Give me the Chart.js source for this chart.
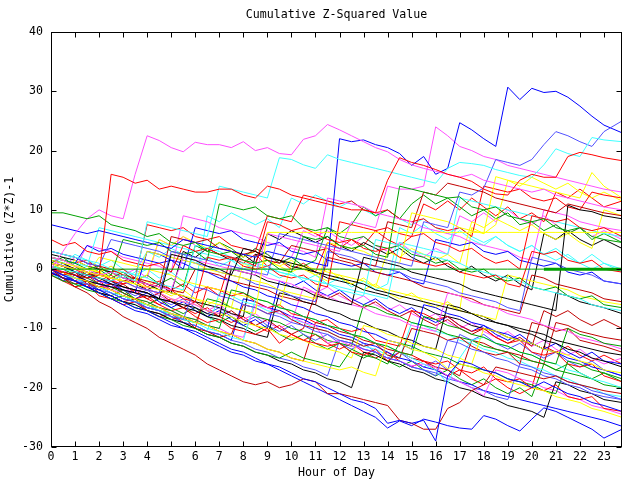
<!DOCTYPE html>
<html>
<head>
<meta charset="utf-8">
<script src="https://cdn.jsdelivr.net/npm/chart.js@4"></script>
<style>
html,body{margin:0;padding:0;background:#fff}
</style>
</head>
<body>
<canvas id="chart" width="640" height="480"></canvas>
<script>
// half-hour samples, last one at 23:45
const hours = [0,0.5,1,1.5,2,2.5,3,3.5,4,4.5,5,5.5,6,6.5,7,7.5,8,8.5,9,9.5,10,10.5,11,11.5,12,12.5,13,13.5,14,14.5,15,15.5,16,16.5,17,17.5,18,18.5,19,19.5,20,20.5,21,21.5,22,22.5,23,23.75]
const hourTicks = [0,1,2,3,4,5,6,7,8,9,10,11,12,13,14,15,16,17,18,19,20,21,22,23]
const yTicks = [-30,-20,-10,0,10,20,30,40]

const r1 = [0,-0.5,-1,-1.5,-1,16,15.5,14.5, 15,13.5,14,13.5,13,13,13.5,13.5, 12.5,12,14,13.5,12.5,12,11.5,11, 10.5,10,10,9.5,15,18.8,18,17.5, 16.8,16,15.5,14.8,13.5,12.7,12.5,15, 16,15.5,15.5,19,19.7,19.3,18.8,18.3]
const r2 = [5,4,4.5,3,2.5,3,1.5,1, 0.5,1,-0.5,4,3,3.5,2.5,2, 1.5,0.5,8,7.5,6.5,7,6,5, 4.5,5,3.5,3,3.5,2,1.5,1, 0.5,1,-0.5,-1,-1.5,-1,-2.5,-3, 3,2.5,3,1.5,1,1.5,0,-0.5]
const r3 = [0,-1,-0.5,-2.5,-3,-2.5,-4,-5, -4.5,-6,-7,-6.5,-8,-9,-8.5,-10, -10.5,-11,-10,-12.5,-11,-12,-12.5,-13, -12.5,-14,-14.5,-13.5,-15.5,-14,-14.5,-15.5, -16,-15.5,-17,-17.5,-16.5,-18.5,-19,-18.5, -20,-20.5,-19.5,-21.5,-22,-21.5,-23.5,-24]
const r4 = [1,0.5,0,-1,-0.5,-2,-2.5,-2, -3.5,-4,-3.5,-5,-5.5,2,1.5,2, 0.5,0,0.5,-1,-1.5,-1,-2.5,-3, 8,7.5,7,6.5,7,6,5.5,6, 4.5,4,3,3.5,2,1,1.5,0, 9,8.5,8,8.5,7,6.5,7,5.5]
const r5 = [-1,-2,-3,-2.5,-4.5,-5,-6,-5.5, -7,-8,-7.5,-9,-10,-3,-3.5,-4.5, -4,-5.5,-6.5,-6,-7.5,-8,-9,-8.5, -10,-10.5,-10,-12,-12.5,-13,-7,-7.5, -8.5,-8,-9.5,-10.5,-10,-11.5,-12.5,-12, -14,-14.5,-14,-16,-16.5,-16,-18,-19]
const r6 = [2,1.5,1,1.5,0,-0.5,0,-1.5, 7.5,7,6.5,7,5.5,5,5.5,4, 3.5,3,9,8.5,8,12.5,12,11.5, 11,11.5,10,9.5,10,8.5,8,8.5, 7,6.5,7,5.5,14,13.5,13,13.5, 12,11.5,12,10.5,10,13,12.5,12]
const r7 = [0,-1,0.5,-0.5,-2,-1,-2.5,-1.5, -3,-2,-3.5,-2.5,-4,-3,-4.5,2, 1,2.5,0.5,1.5,0,1,-0.5,4.5, 3.5,5,4,6.5,5,4,5.5,11, 10,11.5,10,12,10.5,9,10.5,8.5, 9.5,8,13,12,13.5,12,10.5,11.5]
const r8 = [-1,-0.5,-2,-3,-2,-3.5,-4.5,-3.5, -5,-6,-5,-6.5,-7.5,-6.5,-8,-9, -8,-9.5,-10.5,-9.5,-11,-12,-11,-12.5, -13.5,-12.5,-14,-15,-14,-15.5,-16.5,-15.5, -17,-18,-17,-18.5,-19.5,-18.5,-20,-21, -20,-13,-14,-13,-14.5,-15.5,-14.5,-16]

const d1 = [0,-1.5,-3,-4,-5.5,-6.5,-8,-9, -10,-11.5,-12.5,-13.5,-14.5,-16,-17,-18, -19,-19.5,-19,-20,-19.5,-18.5,-19,-21, -21,-21.5,-22,-22.5,-23,-25.5,-26,-27, -27,-23.5,-22.5,-20.5,-19.5,-16.5,-17,-17.5, -18,-18.5,-18,-19,-19.5,-20,-20.5,-21]
const d2 = [1,0.5,0,-0.5,-1,-1.5,-2,-1.5, -2.5,-3,5.5,5,4.5,5,3.5,3, 2.5,3,1.5,1,4,3.5,3,3.5, 2,1.5,1,0.5,8,7.5,7,13, 12.5,14.5,14,13.5,13,12,11.5,11, 10.5,10,9.5,11,10.5,10,9.5,9]
const d3 = [-0.5,-1.5,-2.5,-2,-4,-4.5,-5.5,-5, -7,-7.5,-8.5,-8,-10,-10.5,-11.5,-11, -6,-6.5,-7.5,-7,-8.5,-9.5,-10,-10.5, -11.5,-12,-13,-12.5,-14.5,-15,-10,-10.5, -11,-12,-11.5,-13,-14,-14.5,-14,-16, -9,-9.5,-10.5,-10,-12,-12.5,-13,-14]
const d4 = [3,2.5,2,1,0.5,0,-1,-1.5, -2,-2.5,-3.5,-4,0,-0.5,-1,-2, -2.5,-3,-3.5,-4.5,-5,-5.5,-6,2, 1.5,1,0,-0.5,-1,-1.5,-2,-3, -3.5,-4,-4.5,-5,-6,-6.5,-7,-7.5, -1,-1.5,-2.5,-3,-3.5,-4,-5,-5.5]
const d5 = [0,-0.5,-1.5,-2,-3,-3.5,-4.5,-5, -6,-6.5,-7.5,-8,-9,-9.5,-10.5,-11, -12,-12.5,-13.5,-14,-15,-15.5,-9,-9.5, -10.5,-11,-12,-12.5,-13.5,-14,-15,-15.5, -16.5,-17,-18,-12,-12.5,-13.5,-14,-14.5, -15.5,-16,-9,-9.5,-10.5,-11,-11.5,-12]
const d6 = [0.5,-0.5,-2,-1,-2.5,-3.5,-2.5,-4, -5,-4,-5.5,-6.5,-5.5,-7,-8,-7, -8.5,-9.5,-8.5,-10,-11,-10,-4,-5, -4,-5.5,-6.5,-5.5,-7,-8,-7,-8.5, -9.5,-8.5,-10,-11,-10,-11.5,-12.5,-11.5, -13,-7,-8,-7,-8.5,-9.5,-8.5,-10]

const g1 = [9.5,9.5,9,8.5,9,7.5,7,6.5, 5.5,6,4.5,4,4.5,3,2.5,3, 1.5,1,1.5,0,-0.5,5.5,5,5.5, 4,3.5,4,2.5,2,14,13.5,13, 12.5,12,12.2,10.5,10,10.5,9,8.5, 8,8.5,7,6.5,7,5.5,5,4.5]
const g2 = [0.5,0,-1,-1.5,-2.5,-3,-4,-5, -5.5,-6.5,-7,-8,-8.5,-9.5,-10,-3.5, -4,-5,-5.5,-6.5,-7,-8,-8.5,-9.5, -10,-11,-11.5,-12.5,-13,-14,-14.5,-8, -8.5,-9.5,-10,-11,-11.5,-12.5,-13,-14, -14.5,-15.5,-16,-10,-11,-11.5,-12.5,-13]
const g3 = [-1,-2,-2.5,-3.5,-4,-5,-5.5,-6.5, -7,-8,-8.5,-9.5,-10,-11,-11.5,-12.5, -13,-14,-14.5,-15,-14,-15,-15.5,-16, -16.5,-13.5,-14.5,-15,-16,-12.5,-13,-14, -14.5,-15,-16,-16.5,-17,-17.5,-18.5,-19, -19.5,-20.5,-21,-15.5,-16,-17,-17.5,-18.5]
const g4 = [2,1.5,1,0,0.5,-1,5,4.5, 4,4.5,3,2.5,3,1.5,11,10.5, 10,10.5,9,8.5,9,7,6.5,7, 5.5,5,5.5,4,3.5,4,2.5,2, 1,1.5,0,-0.5,0,-1.5,-2,-1.5, -3,-3.5,-3,-4.5,-5,-4.5,-6,-6.5]
const g5 = [0,-1,-2,-3,-4,-5,-4.5,-5.5, -6,-7,-7.5,-8.5,-9,-5,-5.5,-6.5, -7,-8,-8.5,-9,-10,-10.5,-11,-12, -12.5,-13,-6,-6.5,-7.5,-8,-9,-9.5, -10,-11,-11.5,-12,-13,-13.5,-14,-15, -15.5,-16,-17,-17.5,-18,-18.5,-19.5,-20]
const g6 = [1,2,0.5,-1,0,-1.5,-0.5,-2, -1,-2.5,-1.5,-3,4,3,4.5,3.5, 2,3.5,2.5,1,2,0.5,1.5,7, 6,7.5,10.5,9,10,8.5,11,12.5, 11,12,10.5,9,10,8.5,9.5,7.5, 8,6.5,7.5,6,7,5,6,4.5]
const g7 = [-0.5,-1.5,-3,-2,-3.5,-4.5,-3.5,-5, -6,-5,-6.5,-7.5,-6.5,-8,-9,-8, -9.5,-10.5,-9.5,-11,-12,-11,-12.5,-13.5, -12.5,-14,-15,-14,-15.5,-16.5,-15.5,-17, -18,-17,-18.5,-19.5,-18.5,-20,-21,-20, -21.5,-16,-17,-16,-17.5,-18.5,-17.5,-19]
const gZero = [0,0,0,0,0,0,0,0, 0,0,0,0,0,0,0,0, 0,0,0,0,0,0,0,0, 0,0,0,0,0,0,0,0, 0,0,0,0,0,0,0,0, 0,0,0,0,0,0,0,0]
const tailHours = [20.5,23.75]
const gTail = [0,0]

const b1 = [7.5,7,6.5,6,6.5,6,5.5,5, 4.5,4,3.5,5,4.5,4,3.5,3, 2.5,2,3,2.5,2,1.5,1,0.5, 22,21.5,21.8,21,20.5,19.5,17.5,19, 16,17,24.7,23.5,22,20.7,30.7,28.6, 30.5,29.8,30,29,27.5,25.8,24.3,23]
const b2 = [0,-1,-2,-3,-3.5,-4.5,-5.5,-6.5, -7,-8,-9,-10,-10.5,-11.5,-12.5,-13.5, -14,-15,-16,-16.5,-17.5,-18.5,-19,-20, -21,-22,-22.5,-23.5,-26,-25.5,-26,-25.5, -29,-18,-15.5,-16,-17,-17.5,-18.5,-19, -20,-19,-20,-21,-21.5,-22.5,-23,-24]
const b3 = [-0.5,-1.5,-2,-3,-4,-5,-6,-7, -7.5,-8.5,-9.5,-10,-11,-12,-13,-14, -14.5,-15.5,-16,-17,-18,-19,-20,-21, -22,-23,-24,-25,-26.8,-25.6,-26.4,-25.3, -25.8,-26.4,-26.8,-27,-24.7,-25.3,-26.4,-27.3, -25.3,-23.4,-24,-25,-26,-27,-28.5,-27]
const b4 = [1,0.5,-0.5,-1,-2,-2.5,-3.5,-4, 3,2.5,1.5,1,0,-0.5,-1.5,-2, -3,-3.5,-4.5,-5,-6,-6.5,-7.5,-8, -9,-9.5,-10.5,-11,-12,-12.5,-13.5,-6, -6.5,-7.5,-8,-9,-9.5,-10.5,-11,-12, -12.5,-13.5,-14,-15,-15.5,-16.5,-17,-18]
const b5 = [2,1.5,1,4,3,3.5,2.5,2, 1.5,1,1.5,0,7,6.5,6,6.5, 5,4.5,4,4.5,3,2.5,3,1.5, 1,0.5,1,-0.5,-1,-0.5,-2,-2.5, 5,4.5,4,4.5,3,2.5,3,1.5, 1,0.5,1,-0.5,-1,-0.5,-2,-2.5]
const b6 = [0,-0.5,-1.5,-2.5,-3,-4,-5,-5.5, -6.5,-7,-8,-9,-9.5,-10.5,-11,-12, -5,-5.5,-6.5,-7,-8,-8.5,-9.5,-10, -11,-11.5,-12.5,-13,-14,-15,-15.5,-16.5, -17,-18,-19,-19.5,-20.5,-21,-21.5,-22, -22.5,-23,-23.5,-24,-24.5,-25,-25.5,-26.5]
const b7 = [-0.5,-2,-1,-2.5,-3.5,-2.5,-4,-5, -4,-5.5,-6.5,-5.5,-7,-8,-7,-8.5, -9.5,-8.5,-10,-2,-3,-2,-3.5,-4.5, -3.5,-5,-6,-5,-6.5,-7.5,-6.5,-8, -9,-8,-9.5,-10.5,-9.5,-11,-12,-11, -12.5,-13.5,-12.5,-14,-15,-14,-15.5,-16]

const lb1 = [0,-0.5,-1,-2,-2.5,-3,-2,-3, -3.5,-4,3,2.5,2,1.5,1,0.5, 0,-0.5,-1,6,5.5,5,4.5,4, 3.5,3,2.5,2,1.5,1,0.5,8, 7.5,7,13,12.5,13.7,18.5,18,17.5, 18.5,21,23.2,22.5,21.5,20.7,23.2,25]
const lb2 = [-0.5,-1,-2,-2.5,-3.5,-4,-5,-5.5, -6.5,-7,-8,-8.5,-3,-3.5,-4.5,-5, -6,-6.5,-7.5,-8,-9,-9.5,-10.5,-11, -12,-12.5,-13.5,-14,-15,-15.5,-16.5,-17, -18,-12,-12.5,-13.5,-14,-15,-15.5,-16.5, -17,-18,-18.5,-19.5,-20,-21,-21.5,-22]
const lb3 = [3,2.5,2,1,0.5,5,4.5,4, 3.5,3,2,1.5,1,0.5,-0.5,-1, -1.5,-2.5,-3,-3.5,-4.5,-5,-5.5,3, 2.5,2,1,0.5,0,-0.5,-1.5,-2, -2.5,-3,-4,-4.5,-5,-5.5,-6.5,-7, 2,1.5,1,0,-0.5,-1,-2,-2.5]
const lb4 = [0,-1,-1.5,-2.5,-3,-4,-5,-5.5, -6.5,-7,-8,-9,-9.5,-10.5,-11,-12, -12.5,-13.5,-14,-15,-15.5,-16.5,-17,-18, -12,-12.5,-13.5,-14,-15,-15.5,-16.5,-17, -17.5,-18.5,-19,-20,-20.5,-21.5,-22,-16, -16.5,-17.5,-18,-19,-19.5,-20.5,-21,-22]
const lb5 = [0,-1.5,-0.5,-2,-3,-2,-3.5,-4.5, -3.5,-5,-6,-5,-6.5,-7.5,-6.5,-8, -9,-8,-9.5,-10.5,-9.5,-11,-12,-11, -12.5,-13.5,-12.5,-14,-15,-14,-15.5,-16.5, -15.5,-17,-11,-12,-11,-12.5,-13.5,-12.5, -14,-15,-14,-15.5,-16.5,-15.5,-17,-18]

const m1 = [0,3,6,8.5,10,9,8.5,16, 22.5,21.7,20.5,19.8,21.4,21,21,20.5, 21.5,20,20.5,19.5,19.3,21.9,22.5,24.4, 23.5,22.5,21.5,20.5,19.8,18.5,17.6,17, 16.5,16,15.5,16,15,14.5,14,13.5, 13,13.5,12.5,12,11.5,11,10.5,10]
const m2 = [1,0.5,0,-0.5,-1,-0.5,-1.5,-2, -2.5,-3,-3.5,2,1.5,1,0.5,0, -0.5,-1,6,5.5,5,4.5,4,3.5, 3,8,7.5,7,14,13.5,13.5,14, 24,22.5,20.7,20,19,18.5,17.5,17, 16.5,16,15.5,15,14.5,14,13.5,13]
const m3 = [2,1.5,0.5,0,-1,-1.5,-2,-3, -3.5,-4,-5,-5.5,-6,-7,-7.5,0.5, 0,-0.5,-1.5,-2,-2.5,-3.5,-4,-4.5, -5.5,-6,-6.5,-7.5,-8,-8.5,-9.5,-10, -10.5,-4,-4.5,-5.5,-6,-6.5,-7.5,-8, -8.5,-9.5,-10,-10.5,-11.5,-12,-12.5,-13.5]
const m4 = [0.5,-0.5,-1,-2,-2.5,-3.5,-4,-5, -5.5,-6.5,-7,-8,-8.5,-9.5,-10,-11, -11.5,-6,-6.5,-7.5,-8,-9,-9.5,-12.5, -12,-13,-13.5,-14,-15,-15.5,-16.3,-16, -16.6,-18,-19,-20,-21.4,-17,-17.5,-18.5, -19,-20,-20.5,-21.5,-22,-23,-23.5,-24.5]
const m5 = [1,0.5,0,4,3.5,3,2,1.5, 1,0.5,-0.5,9,8.5,8,7,6.5, 6,5.5,4.5,4,3.5,3,2,12, 11.5,11,10.5,9.5,9,8.5,8,7, 6.5,6,5.5,4.5,4,3.5,3,2, 1.5,10,9.5,9,8,7.5,7,6.5]
const m6 = [1.5,0.5,2,1,-0.5,0.5,-1,0, -1.5,5,4,5.5,4,3,4.5,3, 2,3.5,2.5,1,2,6.5,5.5,6.5, 5,4,5.5,4,3,4.5,3,2, 3.5,2.5,9,8,9.5,8,10,8.5, 7.5,9,7.5,6,7,5.5,6.5,5]
const m7 = [0.5,-0.5,0,-1.5,-2.5,-1.5,-3,-4, -3,-4.5,-5.5,-4.5,-6,-7,-6,-7.5, -8.5,-7.5,-9,-10,-9,-3,-4,-3, -4.5,-5.5,-4.5,-6,-7,-6,-7.5,-8.5, -7.5,-9,-10,-9,-10.5,-11.5,-10.5,-12, -13,-12,-13.5,-14.5,-13.5,-15,-16,-15]

const c1 = [0.5,0,-0.5,-1,-1.5,-2,-1,-2, 8,7.5,7,6.5,6,5.5,14,13.5, 13,12.5,12,18.8,18.5,17.6,17,19.3, 18.5,18,17.5,17,16.5,16,15.5,15, 14.5,17,18,17.8,17.5,16.8,16.3,15.8, 15.5,17.6,20.3,19.5,19,22.2,21.8,21.5]
const c2 = [3,2.5,2,1.5,1,0,-0.5,-1, -1.5,-2.5,-3,-3.5,4,3.5,3,2, 1.5,1,0.5,-0.5,-1,-1.5,-2,-2.5, -3.5,-4,-4.5,5,4.5,4,3,2.5, 2,1.5,1,0,-0.5,-1,-1.5,-2, -3,-3.5,-4,-4.5,-5,-6,-6.5,-7]
const c3 = [0,-1,-1.5,-2.5,-3,-4,-4.5,-5.5, -6,-7,-7.5,-8.5,-9,-10,-10.5,-11.5, -12,-5,-5.5,-6.5,-7,-8,-8.5,-9.5, -10,-11,-11.5,-12.5,-13,-14,-15,-16, -17,-19.3,-15,-12,-11.5,-12.5,-13,-14, -14.5,-15.5,-16,-17,-17.5,-18.5,-19,-20]
const c4 = [2,1.5,1,0.5,7,6.5,6,5.5, 5,4.5,4,3.5,3,2.5,2,1.5, 1,0.5,0,-0.5,-1,-1.5,-2,-2.5, -3,-3.5,-4,-4.5,-5,4.5,4,3.5, 3,2.5,12,11.5,11,10.5,10,9.5, 9,8.5,8,7.5,7,6.5,6,5.5]
const c5 = [-1,-1.5,-2.5,-3,-4,-4.5,-5.5,-6, -7,-7.5,-8,-9,-9.5,-10.5,-4,-4.5, -5.5,-6,-7,-7.5,-8.5,-9,-10,-10.5, -11.5,-12,-13,-13.5,-14.5,-15,-9,-9.5, -10.5,-11,-12,-12.5,-13.5,-14,-15,-15.5, -16.5,-17,-18,-18.5,-19.5,-20,-21,-21.5]
const c6 = [0,1,-0.5,0.5,-1,0,-1.5,-0.5, 3,2,3.5,2.5,1,2,0.5,1.5, 0,1,-0.5,-1.5,-0.5,-2,-1,-2.5, -1.5,-3,-2,-3.5,-2.5,7,6,7.5, 6,5,6.5,5,4,5.5,4,3, 4,2.5,3.5,2,1,2.5,1,0]
const c7 = [2,1,2.5,1.5,0.5,1.5,0,-1, 0,-1.5,-0.5,-2,-3,9,8,9.5, 8.5,7.5,8.5,7,12,11,12.5,11.5, 10.5,11.5,10,9,10,8.5,7.5,8.5, 7,6,7,5.5,4.5,5.5,4,3, 4,2.5,1.5,2.5,1,0,1,-0.5]

const y1 = [1,0.5,0,-0.5,-1,-1.5,-2,-2.5, -3,-3.5,-4,-4.5,-5,-5.5,-6,-6.5, -7,-7.5,6.2,6.2,6.2,6.2,6.2,6.2, 6.2,6.2,6.2,6.2,6.2,6.2,6.2,6.2, 6.2,6.2,6.2,6.2,6.2,6.2,6.2,6.2, 6.2,6.2,6.2,6.2,6.2,6.2,6.2,6.2]
const y2 = [0,-0.5,-1.5,-2,-3,-3.5,-4.5,-5, -6,-6.5,-7.5,-8,-9,-9.5,-10.5,-11, -12,-12.5,-13.5,-14,-15,-15.5,-16,-16.5, -17,-16.5,-17.4,-18,-12,-12.5,-13.5,-14, -15,-16.8,-16,-16.5,-17.5,-18,-19,-19.5, -20,-20.5,-21.5,-22,-22.5,-23.5,-24,-25]
const y3 = [1.5,1,0.5,0,-0.5,-1.5,-2,-2.5, 3,2.5,2,1.5,1,0,-0.5,-1, -1.5,-2,-2.5,-3.5,-4,-4.5,-5,4.5, 4,3.5,3,2,1.5,1,9.5,9, 8.5,8,7,6.5,6,15.6,15,14.5, 14,13.5,13,12.5,12,16.3,14,12]
const y4 = [2,1.5,0.5,0,-0.5,-1.5,-2,-3, -3.5,-4,-5,-5.5,-6,-7,-7.5,-8, -9,-9.5,-10,-11,-11.5,-12,-13,-13.5, -14,-15,-9.5,-10,-11,-11.5,-12.5,-13, -13.5,-14.5,-15,-16,-10,-10.5,-11.5,-12, -12.5,-13.5,-14,-14.5,-15.5,-16,-17,-17.5]
const y5 = [0.5,0,-0.5,-1,2,1.5,1,0.5, 0,-0.5,-1,-2,-2.5,-3,-3.5,-4, -4.5,-5,-5.5,-6.5,1,0.5,0,-0.5, -1,-1.5,-2,-3,-3.5,-4,-4.5,-5, -5.5,-6,-7,-7.5,-8,-8.5,-1,-1.5, -2,-2.5,-3,-3.5,-4.5,-5,-5.5,-6]
const y6 = [1,0,1.5,0.5,-0.5,0.5,-1,-2, -1,5,4,5.5,4.5,3.5,4.5,3, 2,3,1.5,0.5,1.5,0,-1,0, -1.5,-2.5,-1.5,-3,3,2,3.5,2.5, 1.5,2.5,1,8,7,8.5,7.5,6.5, 7.5,6,5,6,4.5,3.5,10,9]
const y7 = [0,-1,0.5,-0.5,-1.5,-0.5,-2,-3, -2,-3.5,-4.5,-3.5,-5,-6,-5,-6.5, 1,0,1.5,0.5,-0.5,0.5,-1,-2, -1,-2.5,-3.5,-2.5,-4,-5,-4,-5.5, -6.5,-5.5,-7,7,6,7.5,15,14, 15.5,14.5,13.5,14.5,13,12,13,11.5]

const k1 = [0,-0.5,-1,-2,-2.5,-3,-3.5,-4, -4.5,-5,2.5,2,1.5,0.5,0,-1, 3.5,3,2,1.5,1,0.5,-0.5,-1, -1.5,-2,-2.5,-3.5,-4,-4.5,-5,-5.5, -6,-6.5,-7,-7.5,-8.5,-9,-9.5,-10, -10.5,-11,-12,-12.5,-13,-13.5,-14,-14.5]
const k2 = [1,0.5,-0.5,-1,-1.5,-2.5,-3,-3.5, -4,-5,-5.5,-6,-6.5,-7.5,-8,0, -0.5,-1,-2,-2.5,-3,-3.5,-4.5,-5, -5.5,-6,2,1.5,1,0.5,-0.5,-1, -1.5,-2,-2.5,-3.5,-4,-4.5,-5,-5.5, -6,-6.5,-7,10.8,10,9.7,9,8.5]
const k3 = [-0.5,-1.5,-2,-3,-4,-4.5,-5.5,-6, -7,-7.5,-8.5,-9,-10,-11,-11.5,-12.5, -13,-14,-14.5,-15.5,-16,-17,-17.5,-18.5, -19,-20,-14,-14.5,-15.5,-16,-17,-17.5, -18.5,-19,-20,-20.5,-21.5,-22,-23,-23.5, -24,-25,-19,-19.5,-20.5,-21,-22,-22.5]
const k4 = [1.5,1,0,-0.5,-1.5,-2,-3,-3.5, -4,-5,-5.5,-6.5,-7,-8,-8.5,-9.5, -10,-11,-11.5,-4,-4.5,-5.5,-6,-7, -7.5,-8.5,-9,-10,-10.5,-11.5,-12,-13, -13.5,-6,-6.5,-7.5,-8,-9,-9.5,-10.5, -11,-12,-12.5,-13.5,-14,-15,-15.5,-16.5]
const k5 = [2.5,2,1.5,0.5,0,-0.5,-1.5,-2, -2.5,-3.5,-4,-4.5,-5.5,-6,-6.5,-7.5, -8,2.5,2,1.5,0.5,0,-0.5,-1.5, -2,-2.5,-3.5,-4,-4.5,-5.5,-6,-6.5, -7.5,-8,-8.5,-9.5,-10,-10.5,-11.5,-12, -12.5,-13.5,-4,-4.5,-5.5,-6,-6.5,-7.5]
const k6 = [0,1,-0.5,-1.5,-0.5,-2,-1,-2.5, -3.5,-2.5,-4,3,2,3.5,2.5,1.5, 2.5,1,6,5,6.5,5.5,4.5,5.5, 4,3,4.5,3.5,2.5,3.5,2,1, 2,0.5,-0.5,0.5,-1,-2,-1,-2.5, -3.5,6,5,6.5,5,4,5,3.5]

const RED = '#ff0000', DRED = '#c00000', GREEN = '#00a000', BLUE = '#0000ff',
      LBLUE = '#5050ff', MAG = '#ff50ff', CYAN = '#40ffff', YEL = '#ffff00', BLK = '#000000'

const lines = [
  [gZero, GREEN], [y1, YEL],
  [r1, RED], [b2, BLUE], [g1, GREEN], [m1, MAG], [c1, CYAN], [y2, YEL], [k1, BLK], [d1, DRED], [lb1, LBLUE],
  [r2, RED], [b1, BLUE], [g2, GREEN], [m2, MAG], [c2, CYAN], [y3, YEL], [k2, BLK], [d2, DRED], [lb2, LBLUE],
  [r3, RED], [b3, BLUE], [g3, GREEN], [m3, MAG], [c3, CYAN], [y4, YEL], [k3, BLK], [d3, DRED], [lb3, LBLUE],
  [r4, RED], [b4, BLUE], [g4, GREEN], [m4, MAG], [c4, CYAN], [y5, YEL], [k4, BLK], [d4, DRED], [lb4, LBLUE],
  [r5, RED], [b5, BLUE], [g5, GREEN], [m5, MAG], [c5, CYAN], [y6, YEL], [k5, BLK], [d5, DRED], [lb5, LBLUE],
  [r6, RED], [b6, BLUE], [g6, GREEN], [m6, MAG], [c6, CYAN], [y7, YEL], [k6, BLK], [d6, DRED],
  [r7, RED], [b7, BLUE], [g7, GREEN], [m7, MAG], [c7, CYAN], [r8, RED]
]

const font = { family: 'DejaVu Sans Mono', size: 11.6 }

const datasets = lines.map(([vals, color]) => ({
  data: vals.map((v, i) => ({ x: hours[i], y: v })),
  borderColor: color,
  borderWidth: 1,
  pointRadius: 0,
  tension: 0,
  fill: false
}))
datasets.unshift({
  data: gTail.map((v, i) => ({ x: tailHours[i], y: v })),
  borderColor: GREEN, borderWidth: 3, pointRadius: 0, fill: false
})

// gnuplot style frame with inward ticks on all four sides
const frame = {
  id: 'frame',
  afterDraw(chart) {
    const { ctx, chartArea: a, scales: { x, y } } = chart
    const L = Math.round(a.left) + 0.5, R = Math.round(a.right) - 0.5
    const T = Math.round(a.top) + 0.5, B = Math.round(a.bottom) - 0.5
    ctx.save()
    ctx.strokeStyle = '#000'
    ctx.lineWidth = 1
    ctx.strokeRect(L, T, R - L, B - T)
    ctx.beginPath()
    hourTicks.forEach(v => {
      const px = Math.round(x.getPixelForValue(v)) + 0.5
      ctx.moveTo(px, B); ctx.lineTo(px, B - 5)
      ctx.moveTo(px, T); ctx.lineTo(px, T + 5)
    })
    yTicks.forEach(v => {
      const py = Math.round(y.getPixelForValue(v)) + 0.5
      ctx.moveTo(L, py); ctx.lineTo(L + 5, py)
      ctx.moveTo(R, py); ctx.lineTo(R - 5, py)
    })
    ctx.stroke()
    ctx.restore()
  }
}

new Chart(document.getElementById('chart'), {
  type: 'line',
  data: { datasets },
  options: {
    responsive: false,
    animation: false,
    layout: { padding: { left: 0, right: 18, top: 0, bottom: 0 } },
    plugins: {
      legend: { display: false },
      tooltip: { enabled: false },
      title: {
        display: true,
        text: 'Cumulative Z-Squared Value',
        fullSize: false,
        color: '#000',
        font: { ...font, weight: 'normal' },
        padding: { top: 8.5, bottom: 9.6 }
      }
    },
    scales: {
      x: {
        type: 'linear',
        min: 0,
        max: 23.75,
        afterBuildTicks: s => { s.ticks = hourTicks.map(v => ({ value: v })) },
        afterFit: s => { s.height = 33 },
        grid: { display: false, drawTicks: false },
        border: { display: false },
        ticks: { color: '#000', font, padding: 3, autoSkip: false, maxRotation: 0 },
        title: { display: true, text: 'Hour of Day', color: '#000', font, padding: { top: 0, bottom: 0 } }
      },
      y: {
        min: -30,
        max: 40,
        afterBuildTicks: s => { s.ticks = yTicks.map(v => ({ value: v })) },
        afterFit: s => { s.width = 51 },
        grid: { display: false, drawTicks: false },
        border: { display: false },
        ticks: { color: '#000', font, padding: 8 },
        title: { display: true, text: 'Cumulative (Z*Z)-1', color: '#000', font, padding: { top: 3.5, bottom: 0 } }
      }
    }
  },
  plugins: [frame]
})
</script>
</body>
</html>
